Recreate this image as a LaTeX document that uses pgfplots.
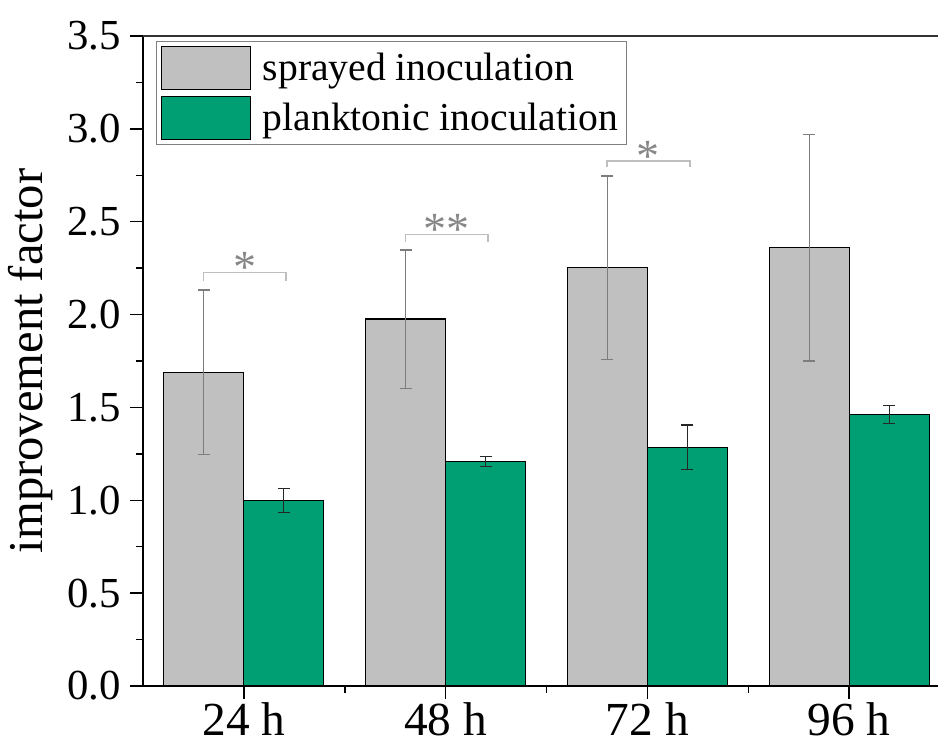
\documentclass[border=0pt]{standalone}
\usepackage{fontspec}
\setmainfont{Liberation Serif}
\usepackage{pgfplots}
\pgfplotsset{compat=1.18}
\definecolor{barg}{RGB}{192,192,192}
\definecolor{bargreen}{RGB}{0,158,115}
\definecolor{errg}{RGB}{125,125,125}
\definecolor{brk}{RGB}{190,190,190}
\definecolor{starc}{RGB}{135,135,135}
\pgfplotsset{mylegend/.style={legend image code/.code={\draw[#1, line width=0.7pt] (0pt,-10.75pt) rectangle (44.5pt,10.75pt);}}}
\begin{document}
\begin{tikzpicture}
\begin{axis}[
  name=ax,
  scale only axis, width=397.5pt, height=325pt,
  xmin=0.5, xmax=4.44, ymin=0, ymax=3.5,
  clip=false,
  ybar=0pt, bar width=40pt,
  axis lines=left, axis line style={-, line width=0.75pt, black},
  tick align=outside,
  major tick length=6.5pt, minor tick length=3.5pt,
  tick style={line width=0.75pt, black},
  xtick={1,2,3,4}, xticklabels={24 h,48 h,72 h,96 h},
  minor xtick={1.5,2.5,3.5},
  ytick={0,0.5,1,1.5,2,2.5,3,3.5},
  minor ytick={0.25,0.75,1.25,1.75,2.25,2.75,3.25},
  yticklabel style={/pgf/number format/fixed, /pgf/number format/fixed zerofill, /pgf/number format/precision=1, /pgf/number format/assume math mode=true, font=\fontsize{21.4}{24}\selectfont, xshift=-1pt},
  xticklabel style={font=\fontsize{23.7}{26}\selectfont, yshift=1.5pt},
  ylabel={improvement factor},
  every axis y label/.style={at={(axis description cs:-0.142,0.5)}, rotate=90, anchor=center, font=\fontsize{24.3}{28}\selectfont},
  legend style={at={(axis description cs:0.0164,0.992)}, anchor=north west, draw=gray, line width=0.5pt,
    font=\fontsize{19.8}{22}\selectfont, inner xsep=2pt, inner ysep=2pt, row sep=3pt,
    /tikz/every odd column/.append style={column sep=4pt}},
  legend cell align=left,
]
\addplot[fill=barg, draw=black, line width=0.6pt, mylegend,
  error bars/.cd, y dir=both, y explicit,
  error bar style={errg, line width=0.6pt},
  error mark options={errg, mark size=3pt, line width=0.6pt, rotate=90}]
  coordinates {(1,1.690) +- (0,0.442) (2,1.976) +- (0,0.372) (3,2.253) +- (0,0.493) (4,2.360) +- (0,0.610)};
\addlegendentry{sprayed inoculation}
\addplot[fill=bargreen, draw=black, line width=0.6pt, mylegend,
  error bars/.cd, y dir=both, y explicit,
  error bar style={black!85, line width=0.6pt},
  error mark options={black!85, mark size=3pt, line width=0.6pt, rotate=90}]
  coordinates {(1,0.998) +- (0,0.064) (2,1.208) +- (0,0.027) (3,1.285) +- (0,0.120) (4,1.463) +- (0,0.048)};
\addlegendentry{planktonic inoculation}
% significance brackets
\addplot[sharp plot, forget plot, draw=brk, line width=0.8pt, mark=none] coordinates {(0.8,2.183) (0.8,2.226) (1.21,2.226) (1.21,2.183)};
\addplot[sharp plot, forget plot, draw=brk, line width=0.8pt, mark=none] coordinates {(1.8,2.390) (1.8,2.432) (2.21,2.432) (2.21,2.390)};
\addplot[sharp plot, forget plot, draw=brk, line width=0.8pt, mark=none] coordinates {(2.8,2.793) (2.8,2.827) (3.21,2.827) (3.21,2.793)};
\node[text=starc, font=\fontsize{23}{23}\selectfont, anchor=base, inner sep=0pt] at (axis cs:1.005,2.172) {*};
\node[text=starc, font=\fontsize{23}{23}\selectfont, anchor=base, inner sep=0pt] at (axis cs:2.005,2.378) {**};
\node[text=starc, font=\fontsize{23}{23}\selectfont, anchor=base, inner sep=0pt] at (axis cs:3.005,2.773) {*};
\draw[line width=1pt, black!80] (rel axis cs:0,1) -- (rel axis cs:1,1);
\end{axis}
\pgfresetboundingbox
\path ([shift={(-71.5pt,-29pt)}]ax.south west) rectangle ([shift={(0pt,18pt)}]ax.north east);
\end{tikzpicture}
\end{document}
